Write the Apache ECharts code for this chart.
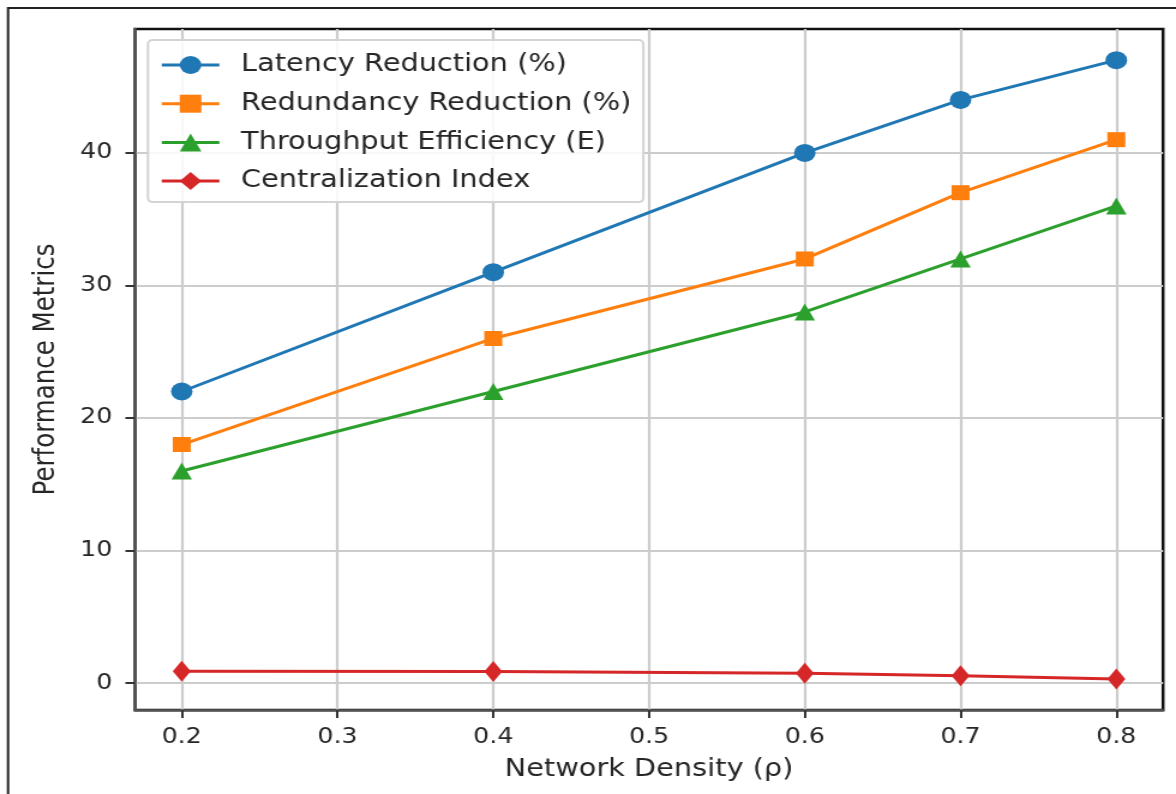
<!DOCTYPE html>
<html>
<head>
<meta charset="utf-8">
<script src="https://cdn.jsdelivr.net/npm/echarts@6/dist/echarts.min.js"></script>
<style>
  html, body { margin: 0; padding: 0; background: #ffffff; overflow: hidden; }
  #wrap { width: 1176px; height: 794px; overflow: hidden; position: relative; }
  #chart { width: 980px; height: 794px; transform: scaleX(1.2); transform-origin: 0 0; }
</style>
</head>
<body>
<div id="wrap"><div id="chart"></div></div>
<script>
// ---- data ----
const density = [0.2, 0.4, 0.6, 0.7, 0.8];
const latencyReduction = [22, 31, 40, 44, 47];
const redundancyReduction = [18, 26, 32, 37, 41];
const throughputEfficiency = [16, 22, 28, 32, 36];
const centralizationIndex = [0.9, 0.88, 0.75, 0.55, 0.3];
const seriesNames = ['Latency Reduction (%)', 'Redundancy Reduction (%)', 'Throughput Efficiency (E)', 'Centralization Index'];
const xTicks = [0.2, 0.3, 0.4, 0.5, 0.6, 0.7, 0.8];
const yTicks = [0, 10, 20, 30, 40];
const xLabel = 'Network Density (ρ)';
const yLabel = 'Performance Metrics';

const FONT = 'DejaVu Sans';
const colors = ['#1f77b4', '#ff7f0e', '#2ca02c', '#d62728'];
const symbols = ['circle', 'rect', 'triangle', 'diamond'];
const symbolSizes = [18, 15, 17, [15, 21]];
const values = [latencyReduction, redundancyReduction, throughputEfficiency, centralizationIndex];

const chart = echarts.init(document.getElementById('chart'), null, { renderer: 'canvas' });

const series = seriesNames.map((name, i) => ({
  name: name,
  type: 'line',
  data: density.map((x, j) => [x, values[i][j]]),
  symbol: symbols[i],
  symbolSize: symbolSizes[i],
  showAllSymbol: true,
  lineStyle: { color: colors[i], width: 3 },
  itemStyle: { color: colors[i] },
  emphasis: { disabled: true },
  z: 3 + i
}));

const axisCommon = {
  axisLine: { show: true, onZero: false, lineStyle: { color: '#555555', width: 2.5 } },
  axisTick: { show: true, length: 8, lineStyle: { color: '#333333', width: 2 } },
  splitLine: { show: true, lineStyle: { color: '#cccccc', width: 2.2 } },
  nameTextStyle: { fontFamily: FONT, fontSize: 24, color: '#262626' }
};

chart.setOption({
  animation: false,
  backgroundColor: '#ffffff',
  color: colors,
  textStyle: { fontFamily: FONT },
  grid: {
    left: 112.5, right: 10.8, top: 29, bottom: 84,
    show: true, borderColor: '#111111', borderWidth: 2.5, backgroundColor: 'transparent',
    outerBoundsMode: 'none', containLabel: false
  },
  legend: {
    orient: 'vertical',
    left: 123.3, top: 40,
    padding: [13, 10, 9, 10],
    itemWidth: 48, itemHeight: 22.5, itemGap: 14.7,
    backgroundColor: 'rgba(255,255,255,0.85)',
    borderColor: '#d4d4d4', borderWidth: 2, borderRadius: 4,
    lineStyle: { width: 3 },
    textStyle: { fontFamily: FONT, fontSize: 24, color: '#262626', lineHeight: 24, padding: [0, 0, 0, 13] },
    data: seriesNames,
    selectedMode: false
  },
  xAxis: Object.assign({}, axisCommon, {
    type: 'value', min: 0.17, max: 0.83,
    name: xLabel, nameLocation: 'middle', nameGap: 48,
    axisTick: Object.assign({}, axisCommon.axisTick, { customValues: xTicks }),
    axisLabel: { customValues: xTicks, margin: 17, fontFamily: FONT, fontSize: 21, color: '#262626',
      formatter: v => v.toFixed(1) }
  }),
  yAxis: Object.assign({}, axisCommon, {
    type: 'value', min: -2.03, max: 49.35,
    name: yLabel, nameLocation: 'middle', nameGap: 61, nameRotate: 90,
    nameTextStyle: { fontFamily: FONT, fontSize: 24.5, color: '#262626' },
    axisTick: Object.assign({}, axisCommon.axisTick, { customValues: yTicks }),
    axisLabel: { customValues: yTicks, margin: 19, fontFamily: FONT, fontSize: 21, color: '#262626',
      formatter: v => String(Math.round(v)) }
  }),
  graphic: [{
    type: 'polyline',
    shape: { points: [[6.7, 800], [6.7, 8], [1000, 8]] },
    style: { stroke: '#222222', lineWidth: 2, fill: null },
    silent: true, z: 100
  }],
  series: series
});
</script>
</body>
</html>
